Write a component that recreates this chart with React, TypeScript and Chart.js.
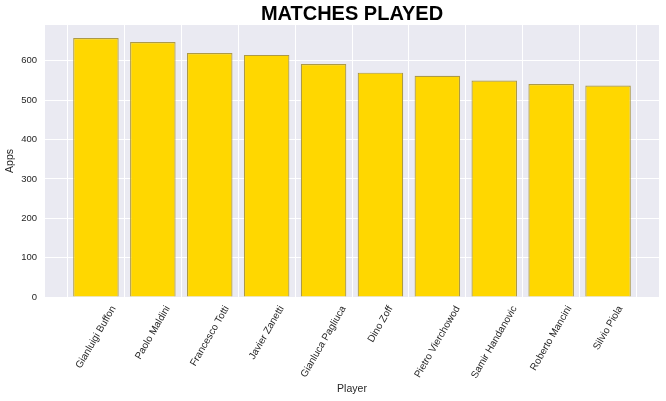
import React, { useEffect, useRef } from "react";
import { Chart, registerables } from "chart.js";

Chart.register(...registerables);

const players = [
  "Gianluigi Buffon",
  "Paolo Maldini",
  "Francesco Totti",
  "Javier Zanetti",
  "Gianluca Pagliuca",
  "Dino Zoff",
  "Pietro Vierchowod",
  "Samir Handanovic",
  "Roberto Mancini",
  "Silvio Piola",
];
const apps = [658, 648, 620, 615, 592, 570, 562, 550, 541, 537];
const yTicks = [0, 100, 200, 300, 400, 500, 600];
const yMax = 691;
const xPad = 0.895;

const FAMILY = "'Liberation Sans', Arial, sans-serif";
const TICK_FONT = "10px 'Liberation Sans', Arial, sans-serif";
const TICK_COLOR = "#262626";

const rotatedLabels = {
  id: "rotatedLabels",
  afterDraw(chart: any) {
    const ctx = chart.ctx;
    const xs = chart.scales.x;
    const theta = (60 * Math.PI) / 180;
    const h = 11;
    const top = chart.chartArea.bottom + 7;
    ctx.save();
    ctx.font = TICK_FONT;
    ctx.fillStyle = TICK_COLOR;
    players.forEach((name, i) => {
      const w = ctx.measureText(name).width;
      const H = w * Math.sin(theta) + h * Math.cos(theta);
      const x = xs.getPixelForValue(i);
      ctx.save();
      ctx.translate(x, top + H / 2);
      ctx.rotate(-theta);
      ctx.textAlign = "center";
      ctx.textBaseline = "middle";
      ctx.fillText(name, 0, 0);
      ctx.restore();
    });
    ctx.restore();
  },
};

const plotBg = {
  id: "plotBg",
  beforeDraw(chart: any) {
    const { ctx, chartArea } = chart;
    ctx.save();
    ctx.fillStyle = "#EAEAF2";
    ctx.fillRect(chartArea.left, chartArea.top, chartArea.right - chartArea.left, chartArea.bottom - chartArea.top);
    ctx.restore();
  },
};

export default function App() {
  const ref = useRef<HTMLCanvasElement>(null);
  useEffect(() => {
    document.body.style.margin = "0";
    const chart = new Chart(ref.current as HTMLCanvasElement, {
      type: "bar",
      data: {
        datasets: [
          {
            data: apps.map((v, i) => ({ x: i, y: v })),
            backgroundColor: "#FFD700",
            borderColor: "rgba(170,150,60,0.95)",
            borderWidth: 1.2,
            barPercentage: 1,
            categoryPercentage: 0.8,
          },
        ],
      },
      options: {
        responsive: false,
        animation: false,
        layout: { padding: { left: 0, right: 7, top: 0, bottom: 2 } },
        plugins: {
          legend: { display: false },
          tooltip: { enabled: false },
          title: {
            display: true,
            text: "MATCHES PLAYED",
            fullSize: false,
            color: "#000",
            font: { family: FAMILY, size: 20, weight: "bold", lineHeight: 1.1 },
            padding: { top: 3, bottom: 0 },
          },
        },
        scales: {
          x: {
            type: "linear",
            min: -xPad,
            max: players.length - 1 + xPad,
            offset: false,
            afterBuildTicks: (s: any) => {
              s.ticks = players.map((_, i) => ({ value: i }));
            },
            afterFit: (s: any) => {
              s.height = 102;
            },
            ticks: { display: false },
            grid: { color: "#ffffff", lineWidth: 1, drawTicks: false },
            border: { display: false },
            title: {
              display: true,
              text: "Player",
              color: TICK_COLOR,
              font: { family: FAMILY, size: 10.5 },
              padding: { top: 4, bottom: 4 },
            },
          },
          y: {
            min: 0,
            max: yMax,
            afterBuildTicks: (s: any) => {
              s.ticks = yTicks.map((v) => ({ value: v }));
            },
            afterFit: (s: any) => {
              s.width = 45;
            },
            ticks: {
              color: TICK_COLOR,
              font: { family: FAMILY, size: 9.5 },
              padding: 8,
            },
            grid: { color: "#ffffff", lineWidth: 1, drawTicks: false },
            border: { display: false },
            title: {
              display: true,
              text: "Apps",
              color: TICK_COLOR,
              font: { family: FAMILY, size: 10.5 },
              padding: { top: 4, bottom: 4 },
            },
          },
        },
      },
      plugins: [plotBg, rotatedLabels],
    } as any);
    return () => chart.destroy();
  }, []);
  return (
    <div style={{ position: "fixed", left: 0, top: 0, width: 666, height: 401, background: "#fff" }}>
      <canvas ref={ref} width={666} height={401} />
    </div>
  );
}
